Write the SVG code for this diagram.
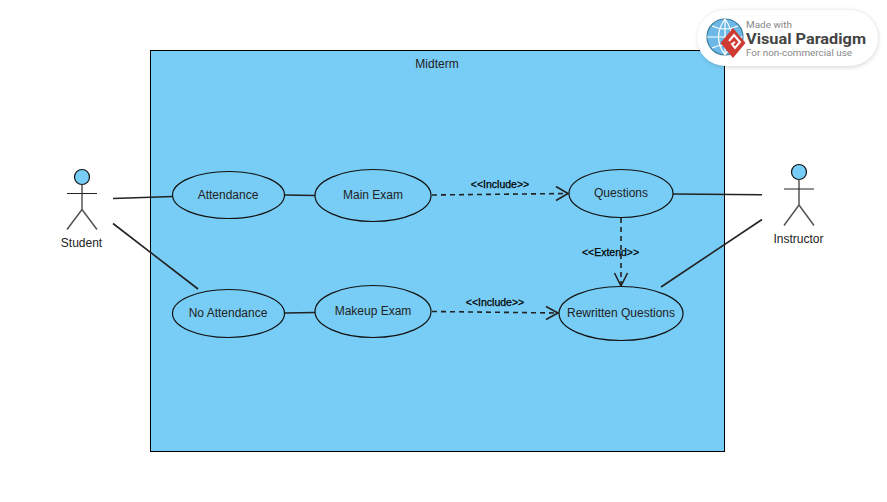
<svg xmlns="http://www.w3.org/2000/svg" width="887" height="502" viewBox="0 0 887 502">
<style>
text{font-family:"Liberation Sans",Arial,sans-serif;font-size:12px;fill:#222;text-anchor:middle}
.uc{fill:#78CDF6;stroke:#111;stroke-width:1.2}
.con{fill:none;stroke:#222;stroke-width:1.6}
.dash{stroke-dasharray:5 4}
.head{fill:none;stroke:#222;stroke-width:1.6}
.lbl{font-size:10.500px;fill:#000;stroke:#000;stroke-width:.25}
.act{fill:none;stroke:#555;stroke-width:1.5}
.arm{fill:none;stroke:#222;stroke-width:1}
.hd{fill:#78CDF6;stroke:#111;stroke-width:1.2}
.wm{text-anchor:start;font-family:Roboto,"Liberation Sans",sans-serif}
.wms{font-size:8.500px;fill:#888}
.wmb{font-size:14px;font-weight:700;fill:#444}
</style>
<defs>
<filter id="sh" x="-10%" y="-20%" width="120%" height="140%"><feGaussianBlur stdDeviation="2.5"/></filter>
</defs>
<rect width="887" height="502" fill="#fff"/>
<g id="system">
<rect x="150.500" y="50.500" width="574" height="401" fill="#78CDF6" stroke="#000" stroke-width="1"/>
<text x="437" y="68">Midterm</text>
</g>
<g id="connectors">
<path class="con" d="M113 198.500L173 196.500"/>
<path class="con" d="M113 223.500L198 289"/>
<path class="con" d="M285 195L315 195.500"/>
<path class="con" d="M285 313L315 312.500"/>
<path class="con" d="M673 194L762 194.800"/>
<path class="con" d="M661 287L762 219.500"/>
<path class="con dash" d="M432 195L568 193.500"/>
<path class="head" d="M556 186.500L568 193.500L556 200.500"/>
<path class="con dash" d="M432 311.500L558 313"/>
<path class="head" d="M546 306.500L558 313L546 319.500"/>
<path class="con dash" d="M621 218L621 286"/>
<path class="head" d="M614.500 273L621 286L627.500 273"/>
<text class="lbl" x="500" y="188">&lt;&lt;Include&gt;&gt;</text>
<text class="lbl" x="495" y="306">&lt;&lt;Include&gt;&gt;</text>
<text class="lbl" x="610.500" y="256">&lt;&lt;Extend&gt;&gt;</text>
</g>
<g id="student">
<circle class="hd" cx="82" cy="177" r="7.500"/>
<path class="act" d="M82 184.500V209.500M82 209.500L67 229.500M82 209.500L97 229.500"/>
<path class="arm" d="M67 193.500H97"/>
<text x="81.500" y="247">Student</text>
</g>
<g id="instructor">
<circle class="hd" cx="799" cy="172" r="7.500"/>
<path class="act" d="M799 179.500V205M799 205L784 225.500M799 205L814 225.500"/>
<path class="arm" d="M784 189H814"/>
<text x="798.500" y="243">Instructor</text>
</g>
<g id="attendance"><ellipse class="uc" cx="228.500" cy="195" rx="56" ry="23.500"/><text x="228" y="199">Attendance</text></g>
<g id="no-attendance"><ellipse class="uc" cx="228.500" cy="313.500" rx="56" ry="24"/><text x="228" y="317">No Attendance</text></g>
<g id="main-exam"><ellipse class="uc" cx="373" cy="195.500" rx="58" ry="26"/><text x="373" y="199">Main Exam</text></g>
<g id="makeup-exam"><ellipse class="uc" cx="373" cy="311.500" rx="58" ry="26"/><text x="373" y="315">Makeup Exam</text></g>
<g id="questions"><ellipse class="uc" cx="621" cy="193.500" rx="52" ry="24"/><text x="621" y="197">Questions</text></g>
<g id="rewritten-questions"><ellipse class="uc" cx="621" cy="313.500" rx="62" ry="27"/><text x="621" y="317">Rewritten Questions</text></g>
<g id="watermark">
<rect x="698" y="11" width="180" height="56" rx="28" fill="#000" opacity=".18" filter="url(#sh)"/>
<rect x="697" y="10" width="181" height="56" rx="28" fill="#fff"/>
<circle cx="725" cy="37" r="18" fill="#6CB8E6" stroke="#3F7F9F" stroke-width="1.200"/>
<path d="M707 37H743M725 19V55M712 26Q725 32 738 26M712 48Q725 42 738 48M725 19Q712 37 725 55M725 19Q738 37 725 55" fill="none" stroke="#fff" stroke-width="1.200"/>
<path d="M733 28L745.500 43L733 58L720.500 43Z" fill="#CF3A32"/>
<path d="M729 41L734 35L740 42L735 48L732 44L735 42" fill="none" stroke="#fff" stroke-width="2"/>
<text class="wm wms" x="746" y="28" textLength="46" lengthAdjust="spacingAndGlyphs">Made with</text>
<text class="wm wmb" x="746" y="43.500" textLength="120" lengthAdjust="spacingAndGlyphs">Visual Paradigm</text>
<text class="wm wms" x="746" y="55.500" textLength="106" lengthAdjust="spacingAndGlyphs">For non-commercial use</text>
</g>
</svg>
